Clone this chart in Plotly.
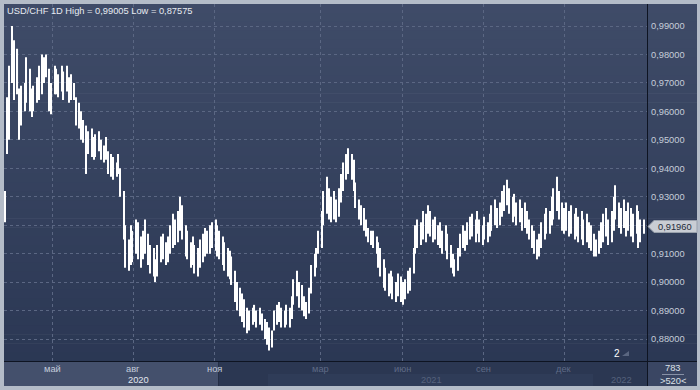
import plotly.graph_objects as go
import pandas as pd

# ---------------- data ----------------
HIGH = [0.932, 0.965, 0.976, 0.990, 0.985, 0.982, 0.968, 0.969, 0.970, 0.979,
        0.975, 0.968, 0.969, 0.972, 0.976, 0.980, 0.979, 0.980, 0.975, 0.970,
        0.976, 0.975, 0.973, 0.976, 0.974, 0.976, 0.972, 0.973, 0.970, 0.965,
        0.963, 0.960, 0.957, 0.955, 0.953, 0.954, 0.951, 0.952, 0.953, 0.950,
        0.948, 0.951, 0.946, 0.945, 0.944, 0.942, 0.945, 0.940, 0.932, 0.920,
        0.915, 0.920, 0.918, 0.922, 0.921, 0.916, 0.918, 0.922, 0.917, 0.913,
        0.912, 0.908, 0.913, 0.916, 0.917, 0.914, 0.916, 0.920, 0.924, 0.922,
        0.925, 0.930, 0.927, 0.920, 0.918, 0.914, 0.916, 0.913, 0.912, 0.915,
        0.917, 0.919, 0.918, 0.920, 0.921, 0.922, 0.920, 0.918, 0.916, 0.914,
        0.912, 0.911, 0.909, 0.904, 0.900, 0.898, 0.896, 0.894, 0.891, 0.890,
        0.891, 0.892, 0.890, 0.891, 0.889, 0.887, 0.886, 0.884, 0.883, 0.890,
        0.892, 0.893, 0.891, 0.890, 0.892, 0.891, 0.895, 0.901, 0.904, 0.900,
        0.899, 0.895, 0.893, 0.898, 0.906, 0.910, 0.912, 0.918, 0.925, 0.932,
        0.937, 0.933, 0.930, 0.932, 0.929, 0.933, 0.938, 0.942, 0.945, 0.947,
        0.945, 0.943, 0.935, 0.929, 0.927, 0.926, 0.922, 0.919, 0.918,
        0.918, 0.916, 0.914, 0.912, 0.908, 0.905, 0.903, 0.904, 0.902, 0.900,
        0.903, 0.902, 0.900, 0.901, 0.904, 0.905, 0.912, 0.920, 0.922, 0.921,
        0.925, 0.924, 0.927, 0.925, 0.922, 0.923, 0.920, 0.921, 0.918, 0.920,
        0.917, 0.913, 0.910, 0.908, 0.912, 0.917, 0.920, 0.918, 0.921, 0.923,
        0.924, 0.922, 0.925, 0.922, 0.920, 0.923, 0.921, 0.924, 0.927, 0.929,
        0.926, 0.928, 0.932, 0.934, 0.936, 0.933, 0.930, 0.931, 0.928, 0.929,
        0.926, 0.928, 0.925, 0.922, 0.920, 0.918, 0.915, 0.917, 0.921, 0.924,
        0.926, 0.925, 0.930, 0.933, 0.937, 0.932, 0.928, 0.926, 0.928, 0.925,
        0.927, 0.924, 0.926, 0.923, 0.925, 0.922, 0.924, 0.921, 0.920, 0.917,
        0.915, 0.918, 0.921, 0.924, 0.926, 0.922, 0.925, 0.930, 0.934, 0.928,
        0.926, 0.929, 0.925, 0.928, 0.926, 0.924, 0.927, 0.925, 0.922, 0.922]

LOW = [0.921, 0.945, 0.950, 0.970, 0.964, 0.966, 0.950, 0.955, 0.960, 0.963,
       0.960, 0.958, 0.960, 0.963, 0.964, 0.966, 0.970, 0.972, 0.960, 0.959,
       0.966, 0.966, 0.965, 0.967, 0.964, 0.967, 0.963, 0.964, 0.964, 0.955,
       0.954, 0.950, 0.949, 0.938, 0.945, 0.944, 0.943, 0.944, 0.946, 0.943,
       0.942, 0.943, 0.938, 0.937, 0.936, 0.937, 0.938, 0.930, 0.915, 0.905,
       0.904, 0.906, 0.907, 0.910, 0.908, 0.905, 0.908, 0.910, 0.906, 0.903,
       0.902, 0.900, 0.902, 0.907, 0.908, 0.906, 0.907, 0.910, 0.912, 0.913,
       0.914, 0.918, 0.915, 0.909, 0.908, 0.905, 0.906, 0.903, 0.902, 0.905,
       0.907, 0.909, 0.910, 0.910, 0.912, 0.911, 0.909, 0.908, 0.906, 0.904,
       0.902, 0.901, 0.899, 0.893, 0.890, 0.888, 0.886, 0.884, 0.882, 0.883,
       0.885, 0.886, 0.884, 0.885, 0.883, 0.880, 0.878, 0.876, 0.877, 0.883,
       0.885, 0.886, 0.884, 0.884, 0.885, 0.884, 0.887, 0.892, 0.895, 0.891,
       0.890, 0.888, 0.887, 0.889, 0.896, 0.902, 0.905, 0.910, 0.912, 0.920,
       0.924, 0.922, 0.921, 0.922, 0.921, 0.923, 0.928, 0.932, 0.936, 0.938,
       0.936, 0.932, 0.926, 0.922, 0.920, 0.918, 0.916, 0.914, 0.913,
       0.912, 0.910, 0.905, 0.902, 0.898, 0.897, 0.895, 0.896, 0.894, 0.893,
       0.895, 0.893, 0.892, 0.894, 0.896, 0.897, 0.903, 0.910, 0.912, 0.913,
       0.915, 0.914, 0.917, 0.916, 0.914, 0.915, 0.913, 0.912, 0.910, 0.911,
       0.908, 0.905, 0.903, 0.902, 0.904, 0.909, 0.912, 0.911, 0.913, 0.915,
       0.916, 0.914, 0.917, 0.914, 0.913, 0.915, 0.914, 0.916, 0.918, 0.920,
       0.919, 0.920, 0.923, 0.925, 0.927, 0.924, 0.921, 0.923, 0.920, 0.921,
       0.918, 0.919, 0.917, 0.915, 0.912, 0.910, 0.908, 0.909, 0.912, 0.915,
       0.917, 0.917, 0.920, 0.922, 0.925, 0.922, 0.918, 0.917, 0.918, 0.916,
       0.917, 0.915, 0.916, 0.914, 0.915, 0.913, 0.914, 0.912, 0.911, 0.909,
       0.909, 0.910, 0.912, 0.914, 0.916, 0.913, 0.914, 0.918, 0.922, 0.919,
       0.917, 0.919, 0.916, 0.918, 0.916, 0.914, 0.917, 0.912, 0.914, 0.917]

START_DATE = "2020-03-09"
DATES = pd.bdate_range(START_DATE, periods=len(HIGH), freq="2B")

Y_TICKS = [0.88, 0.89, 0.90, 0.91, 0.92, 0.93, 0.94, 0.95, 0.96, 0.97, 0.98, 0.99]
Y_LABELS = ["0,88000", "0,89000", "0,90000", "0,91000", "", "0,93000",
            "0,94000", "0,95000", "0,96000", "0,97000", "0,98000", "0,99000"]
MONTH_TICKS = ["2020-05-01", "2020-08-01", "2020-11-01", "2021-03-01",
               "2021-06-01", "2021-09-01", "2021-12-01"]
MONTH_LABELS = ["май", "авг", "ноя", "мар", "июн", "сен", "дек"]
YEAR_LABELS = ["2020", "2021", "2022"]
YEAR_POS = ["2020-08-07", "2021-07-04", "2022-02-04"]
LAST_PRICE = 0.91960
LAST_TEXT = "0,91960"
TITLE = "USD/CHF 1D High = 0,99005 Low = 0,87575"
COUNT_TOP = "783"
COUNT_BOTTOM = ">520<"
PANE_NO = "2"

# ---------------- layout helpers ----------------
W, H = 700, 390
L, R, T, B = 4, 647, 4, 361


def xp(px):
    return (px - L) / (R - L)


def yp(py):
    return (B - py) / (B - T)


FONT = "Liberation Sans, Arial, sans-serif"

fig = go.Figure()
fig.add_trace(go.Bar(
    x=DATES,
    y=[h - l for h, l in zip(HIGH, LOW)],
    base=LOW,
    width=1.2 * 86400000,
    marker=dict(color="#ffffff", line=dict(width=0)),
    hoverinfo="skip",
))

shapes = []
# vertical gradient behind plot and right scale
N = 40
top_c = (63, 75, 104)
bot_c = (43, 56, 84)
for k in range(N):
    f = k / (N - 1)
    c = tuple(round(top_c[j] + (bot_c[j] - top_c[j]) * f) for j in range(3))
    y0 = T + (B - T) * k / N
    y1 = T + (B - T) * (k + 1) / N + 0.6
    shapes.append(dict(type="rect", xref="paper", yref="paper",
                       x0=xp(4), x1=xp(697), y0=yp(y1), y1=yp(y0),
                       fillcolor="rgb(%d,%d,%d)" % c, line=dict(width=0),
                       layer="below"))
# bottom time scale panel
shapes += [
    dict(type="rect", xref="paper", yref="paper", x0=xp(4), x1=xp(647),
         y0=yp(386), y1=yp(361), fillcolor="#2b3752", line=dict(width=0), layer="below"),
    dict(type="rect", xref="paper", yref="paper", x0=xp(268), x1=xp(593),
         y0=yp(386), y1=yp(374), fillcolor="#2f3c58", line=dict(width=0), layer="below"),
    dict(type="rect", xref="paper", yref="paper", x0=xp(4), x1=xp(218),
         y0=yp(386), y1=yp(361), fillcolor="#44506c", line=dict(width=0), layer="below"),
    dict(type="line", xref="paper", yref="paper", x0=xp(218.5), x1=xp(218.5),
         y0=yp(386), y1=yp(362), line=dict(color="#242e45", width=1), layer="below"),
    dict(type="rect", xref="paper", yref="paper", x0=xp(647), x1=xp(697),
         y0=yp(386), y1=yp(361), fillcolor="#3a4663", line=dict(width=0), layer="below"),
    # separators
    dict(type="line", xref="paper", yref="paper", x0=xp(4), x1=xp(697),
         y0=yp(361.5), y1=yp(361.5), line=dict(color="#0e1422", width=1), layer="above"),
    dict(type="line", xref="paper", yref="paper", x0=xp(647.5), x1=xp(647.5),
         y0=yp(386), y1=yp(4), line=dict(color="#0e1422", width=1), layer="above"),
    # line between counters
    dict(type="line", xref="paper", yref="paper", x0=xp(662), x1=xp(684),
         y0=yp(374.5), y1=yp(374.5), line=dict(color="#8791a6", width=1), layer="above"),
    # small marker next to pane number
    dict(type="path", xref="paper", yref="paper",
         path="M %f,%f L %f,%f L %f,%f Z" % (xp(622), yp(356), xp(629), yp(356), xp(629), yp(351)),
         fillcolor="#5a6680", line=dict(width=0), layer="above"),
    # last price marker arrow
    dict(type="path", xref="paper", yref="paper",
         path="M %f,%f L %f,%f L %f,%f L %f,%f L %f,%f Z" % (
             xp(648), yp(226.5), xp(654), yp(220.5), xp(697), yp(220.5),
             xp(697), yp(232.5), xp(654), yp(232.5)),
         fillcolor="#c9cdd4", line=dict(color="#9aa1ad", width=1), layer="above"),
]

annotations = [
    dict(text=TITLE, xref="paper", yref="paper", x=xp(5), y=yp(10.5),
         xanchor="left", yanchor="middle", showarrow=False,
         font=dict(family=FONT, size=9.3, color="#e8ecf2")),
    dict(text=LAST_TEXT, xref="paper", yref="paper", x=xp(656), y=yp(226.5),
         xanchor="left", yanchor="middle", showarrow=False,
         font=dict(family=FONT, size=9.3, color="#232a38")),
    dict(text=PANE_NO, xref="paper", yref="paper", x=xp(617), y=yp(353),
         xanchor="center", yanchor="middle", showarrow=False,
         font=dict(family=FONT, size=10, color="#ffffff")),
    dict(text=COUNT_TOP, xref="paper", yref="paper", x=xp(673), y=yp(368),
         xanchor="center", yanchor="middle", showarrow=False,
         font=dict(family=FONT, size=9.3, color="#dde1e8")),
    dict(text=COUNT_BOTTOM, xref="paper", yref="paper", x=xp(673), y=yp(381),
         xanchor="center", yanchor="middle", showarrow=False,
         font=dict(family=FONT, size=9.3, color="#dde1e8")),
]
for i, (d, lab) in enumerate(zip(MONTH_TICKS, MONTH_LABELS)):
    col = "#c3cbdb" if i < 3 else "#5e6a86"
    annotations.append(dict(text=lab, xref="x", yref="paper", x=d, y=yp(368.5),
                            xanchor="center", yanchor="middle", showarrow=False,
                            font=dict(family=FONT, size=9.3, color=col)))
for i, (d, lab) in enumerate(zip(YEAR_POS, YEAR_LABELS)):
    col = "#e2e6ee" if i == 0 else "#56627d"
    annotations.append(dict(text=lab, xref="x", yref="paper", x=d, y=yp(380),
                            xanchor="center", yanchor="middle", showarrow=False,
                            font=dict(family=FONT, size=9.3, color=col)))

fig.update_layout(
    width=W, height=H,
    margin=dict(l=L, r=W - R, t=T, b=H - B, pad=0),
    paper_bgcolor="#b4bcc8",
    plot_bgcolor="rgba(0,0,0,0)",
    showlegend=False,
    hovermode=False,
    separators=", ",
    shapes=shapes,
    annotations=annotations,
    xaxis=dict(type="date", range=["2020-03-07 17:00", "2022-03-04 20:00"],
               tickvals=MONTH_TICKS, showticklabels=False, ticks="",
               showgrid=True, gridcolor="#5b6783", griddash="dot", gridwidth=1,
               zeroline=False, showline=False, fixedrange=True),
    yaxis=dict(range=[0.872268, 0.997732], side="right",
               tickvals=Y_TICKS, ticktext=Y_LABELS, ticks="",
               ticklabelstandoff=3,
               tickfont=dict(family=FONT, size=9.3, color="#c6cdd9"),
               showgrid=True, gridcolor="#5b6783", griddash="dot", gridwidth=1,
               zeroline=False, showline=False, fixedrange=True),
)

fig.write_html("out.html")
